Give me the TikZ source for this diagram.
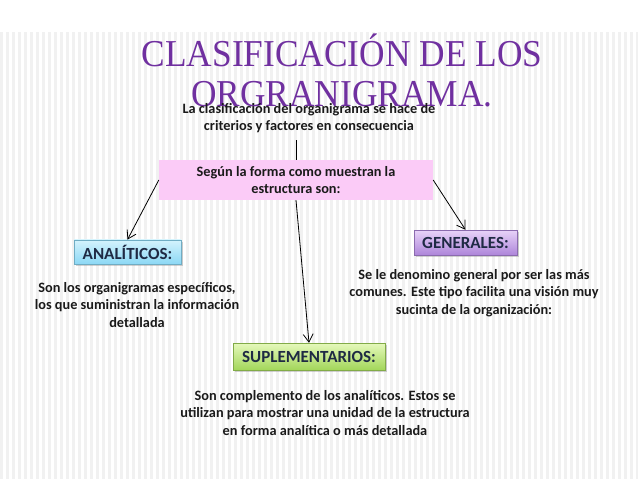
\documentclass[tikz,border=0pt]{standalone}
\usepackage{fontspec}
\setmainfont{Carlito}
\newfontfamily\titlefont{Liberation Serif}
\usetikzlibrary{arrows.meta,positioning,shadows}
\definecolor{morado}{HTML}{7030A0}
\definecolor{rosa}{HTML}{FBCBF7}
\definecolor{texto}{HTML}{1A1A1A}
\definecolor{rotulo}{HTML}{1F2A44}
\definecolor{franja}{HTML}{F1F1F1}
\definecolor{azulA}{HTML}{D4F3FD}
\definecolor{azulB}{HTML}{8CD8F5}
\definecolor{lilaA}{HTML}{E8D3F8}
\definecolor{lilaB}{HTML}{AE86DA}
\definecolor{verdeA}{HTML}{E6F9BC}
\definecolor{verdeB}{HTML}{A2D65A}

\begin{document}
\begin{tikzpicture}[x=1pt,y=-1pt,every node/.style={font=\bfseries\fontsize{14.3}{17.5}\selectfont,text=texto,align=center,inner sep=0pt},
  caja/.style={draw,drop shadow={opacity=0.35,shadow xshift=2pt,shadow yshift=-2pt},inner xsep=8pt,inner ysep=5pt,text=rotulo,font=\bfseries\fontsize{17}{20}\selectfont},
  flecha/.style={-{Straight Barb[length=8pt,width=10pt]},thick,black}]
\useasboundingbox (0,0) rectangle (638,479);
\fill[white] (0,0) rectangle (638,479);
\foreach \x in {0,6,...,636} \fill[franja] (\x,32) rectangle +(2.5,447);

\node[anchor=north,font=\titlefont\fontsize{38}{40}\selectfont,text=morado] (titulo) at (342,34) {\scalebox{0.93}[1]{CLASIFICACIÓN DE LOS}\\\scalebox{0.93}[1]{ORGRANIGRAMA.}};
\node (subtitulo) at (309,118) {La clasificación del organigrama se hace de\\criterios y factores en consecuencia};
\node[fill=rosa,minimum width=274pt,minimum height=40pt] (forma) at (296,180) {Según la forma como muestran la\\estructura son:};
\node[caja,draw=azulB!80!black,top color=azulA,bottom color=azulB,minimum width=107pt,minimum height=24pt] (analiticos) at (127.5,252) {ANALÍTICOS:};
\node[caja,draw=lilaB!80!black,top color=lilaA,bottom color=lilaB,minimum width=103pt,minimum height=25pt] (generales) at (465.5,242.5) {GENERALES:};
\node[caja,draw=verdeB!80!black,top color=verdeA,bottom color=verdeB,minimum width=152pt,minimum height=27pt] (suplementarios) at (309,356.5) {SUPLEMENTARIOS:};

\node (descanal) at (137,305) {Son los organigramas específicos,\\los que suministran la información\\detallada};
\node (descgen) at (474,293) {Se le denomino general por ser las más\\comunes. Este tipo facilita una visión muy\\sucinta de la organización:};
\node (descsup) at (325,413) {Son complemento de los analíticos. Estos se\\utilizan para mostrar una unidad de la estructura\\en forma analítica o más detallada};

\draw[thick] (forma.north |- subtitulo.south) ++(0,7) -- (forma.north);
\draw[flecha] (forma.west) -- (analiticos.north);
\draw[flecha] (forma.east) -- (generales.north);
\draw[flecha] (forma.south) -- (suplementarios.north);
\end{tikzpicture}
\end{document}
